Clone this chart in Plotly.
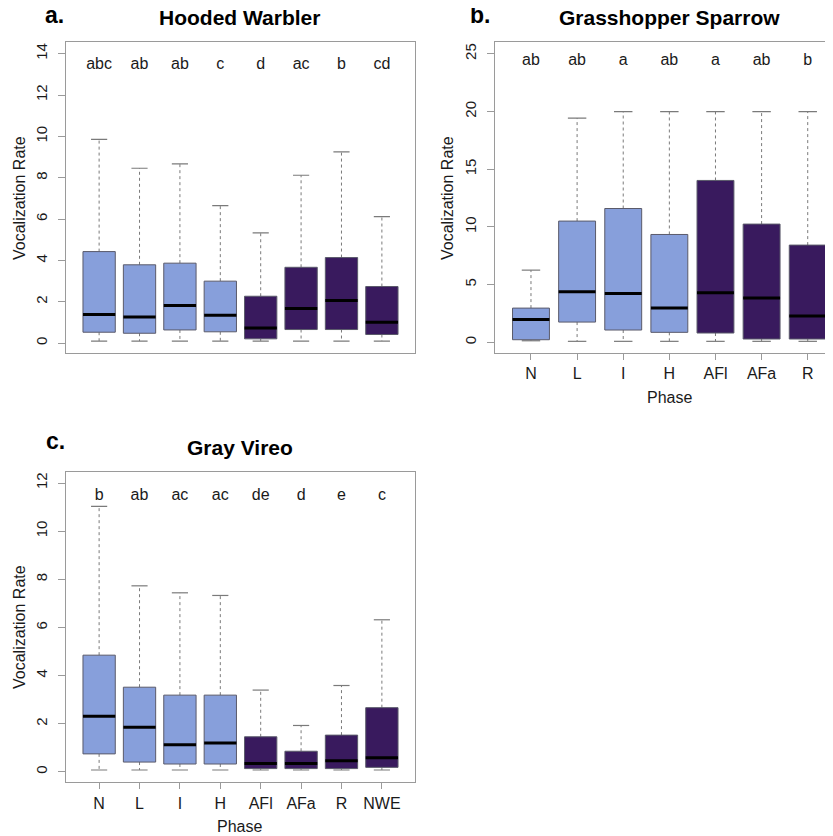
import plotly.graph_objects as go

# ---------------- data ----------------
hw_phases = ["N", "L", "I", "H", "AFl", "AFa", "R", "NWE"]
hw_lower = [0.10, 0.10, 0.10, 0.10, 0.10, 0.10, 0.10, 0.10]
hw_q1 = [0.53, 0.48, 0.64, 0.55, 0.21, 0.66, 0.66, 0.42]
hw_median = [1.39, 1.27, 1.82, 1.35, 0.74, 1.68, 2.06, 1.01]
hw_q3 = [4.43, 3.79, 3.87, 3.00, 2.27, 3.67, 4.14, 2.74]
hw_upper = [9.86, 8.46, 8.67, 6.65, 5.33, 8.12, 9.25, 6.12]
hw_letters = ["abc", "ab", "ab", "c", "d", "ac", "b", "cd"]
hw_group = ["pre", "pre", "pre", "pre", "post", "post", "post", "post"]

gs_phases = ["N", "L", "I", "H", "AFl", "AFa", "R"]
gs_lower = [0.14, 0.09, 0.09, 0.09, 0.09, 0.09, 0.09]
gs_q1 = [0.23, 1.76, 1.07, 0.87, 0.81, 0.29, 0.29]
gs_median = [1.99, 4.39, 4.24, 2.97, 4.30, 3.84, 2.28]
gs_q3 = [2.97, 10.51, 11.60, 9.35, 14.03, 10.25, 8.43]
gs_upper = [6.26, 19.43, 20.00, 20.00, 20.00, 20.00, 20.00]
gs_letters = ["ab", "ab", "a", "ab", "a", "ab", "b"]
gs_group = ["pre", "pre", "pre", "pre", "post", "post", "post"]

gv_phases = ["N", "L", "I", "H", "AFl", "AFa", "R", "NWE"]
gv_lower = [0.08, 0.08, 0.08, 0.08, 0.08, 0.08, 0.08, 0.08]
gv_q1 = [0.75, 0.41, 0.33, 0.33, 0.14, 0.14, 0.14, 0.19]
gv_median = [2.31, 1.86, 1.13, 1.20, 0.35, 0.35, 0.47, 0.59]
gv_q3 = [4.85, 3.52, 3.19, 3.19, 1.46, 0.86, 1.53, 2.67]
gv_upper = [11.03, 7.73, 7.44, 7.33, 3.40, 1.93, 3.59, 6.32]
gv_letters = ["b", "ab", "ac", "ac", "de", "d", "e", "c"]
gv_group = ["pre", "pre", "pre", "pre", "post", "post", "post", "post"]

y_ticks_hw = [0, 2, 4, 6, 8, 10, 12, 14]
y_ticks_gs = [0, 5, 10, 15, 20, 25]
y_ticks_gv = [0, 2, 4, 6, 8, 10, 12]

# ---------------- style ----------------
FONT = "Liberation Sans, Arial, Helvetica, sans-serif"
COLORS = {"pre": "#879FDB", "post": "#391A5E"}
BOX_LINE = "#5a5a6a"
WHISK = "#7a7a7a"
FRAME = "#9a9a9a"
TXT = "#1a1a1a"
HALF = 0.4
CAP = 0.2

# page body has an 8px margin: figure occupies page pixels 8..833 / 8..836
OX, OY = 8, 8
W, H = 825, 828


def fx(px):
    return (px - OX) / W


def fy(py):
    return 1 - (py - OY) / H


fig = go.Figure()


def add_panel(n, lower, q1, med, q3, upper, letters, group, letter_y):
    xa = "x" if n == 1 else "x%d" % n
    ya = "y" if n == 1 else "y%d" % n
    for i in range(len(med)):
        c = i + 1
        # whiskers (dashed)
        fig.add_trace(go.Scatter(
            x=[c, c, None, c, c], y=[q3[i], upper[i], None, q1[i], lower[i]],
            mode="lines", line=dict(color=WHISK, width=1, dash="3px,3px"),
            xaxis=xa, yaxis=ya, hoverinfo="skip", showlegend=False))
        # caps
        fig.add_trace(go.Scatter(
            x=[c - CAP, c + CAP, None, c - CAP, c + CAP],
            y=[upper[i], upper[i], None, lower[i], lower[i]],
            mode="lines", line=dict(color=WHISK, width=1.2),
            xaxis=xa, yaxis=ya, hoverinfo="skip", showlegend=False))
        # box
        fig.add_trace(go.Scatter(
            x=[c - HALF, c + HALF, c + HALF, c - HALF, c - HALF],
            y=[q1[i], q1[i], q3[i], q3[i], q1[i]],
            mode="lines", fill="toself", fillcolor=COLORS[group[i]],
            line=dict(color=BOX_LINE, width=1),
            xaxis=xa, yaxis=ya, hoverinfo="skip", showlegend=False))
        # median
        fig.add_trace(go.Scatter(
            x=[c - HALF, c + HALF], y=[med[i], med[i]],
            mode="lines", line=dict(color="black", width=3),
            xaxis=xa, yaxis=ya, hoverinfo="skip", showlegend=False))
    fig.add_trace(go.Scatter(
        x=list(range(1, len(letters) + 1)), y=[letter_y] * len(letters),
        mode="text", text=letters, textposition="middle center",
        textfont=dict(family=FONT, size=16, color=TXT),
        xaxis=xa, yaxis=ya, hoverinfo="skip", showlegend=False))


add_panel(1, hw_lower, hw_q1, hw_median, hw_q3, hw_upper, hw_letters, hw_group, 13.45)
add_panel(2, gs_lower, gs_q1, gs_median, gs_q3, gs_upper, gs_letters, gs_group, 24.4)
add_panel(3, gv_lower, gv_q1, gv_median, gv_q3, gv_upper, gv_letters, gv_group, 11.45)

axis_common = dict(showline=True, mirror=True, linecolor=FRAME, linewidth=1,
                   ticks="outside", tickcolor=FRAME, showgrid=False, zeroline=False,
                   tickfont=dict(family=FONT, size=16, color=TXT))
yfont = dict(family=FONT, size=15, color=TXT)

fig.update_layout(
    xaxis=dict(axis_common, domain=[fx(66), fx(415)], range=[0.18, 8.82],
               anchor="y", ticks="", showticklabels=False),
    yaxis=dict(axis_common, domain=[fy(352.7), fy(42.3)], range=[-0.46, 14.55],
               anchor="x", tickvals=y_ticks_hw, ticklen=7, tickangle=-90,
               ticklabelstandoff=5, tickfont=yfont),
    xaxis2=dict(axis_common, domain=[fx(495), 1.0], range=[0.22, 7.548],
                anchor="y2", tickvals=list(range(1, len(gs_phases) + 1)),
                ticktext=gs_phases, ticklen=6),
    yaxis2=dict(axis_common, domain=[fy(353.0), fy(42.3)], range=[-0.92, 26.0],
                anchor="x2", tickvals=y_ticks_gs, ticklen=7, tickangle=-90,
                ticklabelstandoff=5, tickfont=yfont),
    xaxis3=dict(axis_common, domain=[fx(66), fx(415)], range=[0.18, 8.82],
                anchor="y3", tickvals=list(range(1, len(gv_phases) + 1)),
                ticktext=gv_phases, ticklen=6),
    yaxis3=dict(axis_common, domain=[fy(782.3), fy(471.7)], range=[-0.43, 12.47],
                anchor="x3", tickvals=y_ticks_gv, ticklen=7, tickangle=-90,
                ticklabelstandoff=5, tickfont=yfont),
)

ann = []


def text(x, y, s, size, bold=False, angle=0, color="black"):
    ann.append(dict(x=fx(x), y=fy(y), xref="paper", yref="paper",
                    text=("<b>%s</b>" % s) if bold else s,
                    showarrow=False, xanchor="center", yanchor="middle", textangle=angle,
                    font=dict(family=FONT, size=size, color=color)))


text(240, 17, "Hooded Warbler", 21, bold=True)
text(669, 17, "Grasshopper Sparrow", 21, bold=True)
text(240, 447, "Gray Vireo", 21, bold=True)
text(54, 15, "a.", 23, bold=True)
text(480, 15, "b.", 23, bold=True)
text(55, 441, "c.", 23, bold=True)
text(19, 198, "Vocalization Rate", 16, angle=-90, color=TXT)
text(447, 198, "Vocalization Rate", 16, angle=-90, color=TXT)
text(19, 627, "Vocalization Rate", 16, angle=-90, color=TXT)
text(669, 397, "Phase", 16, color=TXT)
text(240, 826, "Phase", 16, color=TXT)

fig.update_layout(annotations=ann, width=W, height=H,
                  margin=dict(l=0, r=0, t=0, b=0),
                  paper_bgcolor="white", plot_bgcolor="white",
                  showlegend=False, font=dict(family=FONT))

fig.write_html("out.html")
